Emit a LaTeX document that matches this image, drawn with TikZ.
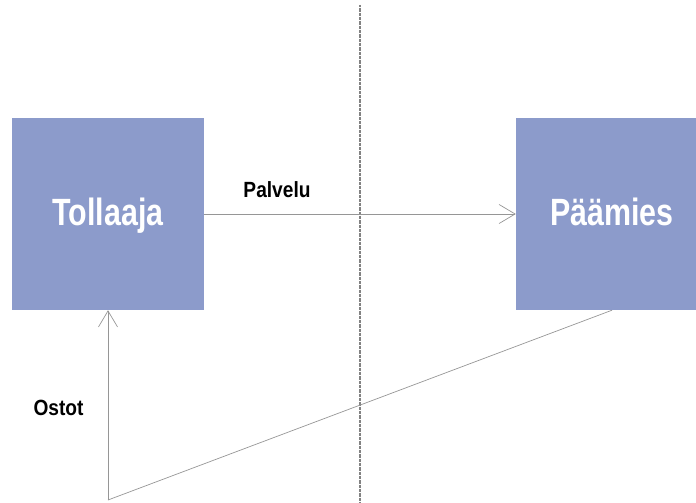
\documentclass[tikz,border=0pt]{standalone}
\usepackage{fontspec}
\setmainfont{Liberation Sans}
\newfontfamily\smallf{Liberation Sans}[FakeStretch=0.87]
\newfontfamily\bigf{Liberation Sans}[FakeStretch=0.8]
\usetikzlibrary{arrows.meta}
\definecolor{boxblue}{RGB}{140,155,203}
\definecolor{linegray}{RGB}{150,150,150}
\definecolor{divgray}{RGB}{130,130,130}
\tikzset{
  party/.style={fill=boxblue, draw=none, minimum width=192pt, minimum height=192pt,
    inner sep=0pt, text=white, font=\bigf\bfseries\fontsize{38}{38}\selectfont,
    text height=22pt, text depth=0pt},
  flow/.style={draw=linegray, line width=0.7pt, -{Straight Barb[length=16pt,width=19pt,line width=0.7pt]}},
  flowline/.style={draw=linegray, line width=0.7pt},
  lbl/.style={anchor=base, inner sep=0pt, font=\smallf\bfseries\fontsize{22}{22}\selectfont},
  divider/.style={draw=divgray, line width=1.6pt, dash pattern=on 1pt off 0.3pt}
}
\begin{document}
\begin{tikzpicture}[x=1pt,y=-1pt]
\useasboundingbox (0,0) rectangle (696,503);
\coordinate (dtop) at (360,5);
\coordinate (dbot) at (360,503);
\draw[divider] (dtop) -- (dbot);
\node[party] (toll) at (108,214) {Tollaaja};
\node[party] (pm) at (612,214) {Päämies};
\draw[flow] (toll.east) -- (pm.west);
\coordinate (corner) at (108,500);
\draw[flowline] (pm.south) -- (corner);
\draw[flow] (corner) -- (toll.south);
\node[lbl] (palvelu) at (277,197) {Palvelu};
\node[lbl] (ostot) at (58.5,415) {Ostot};
\end{tikzpicture}
\end{document}
